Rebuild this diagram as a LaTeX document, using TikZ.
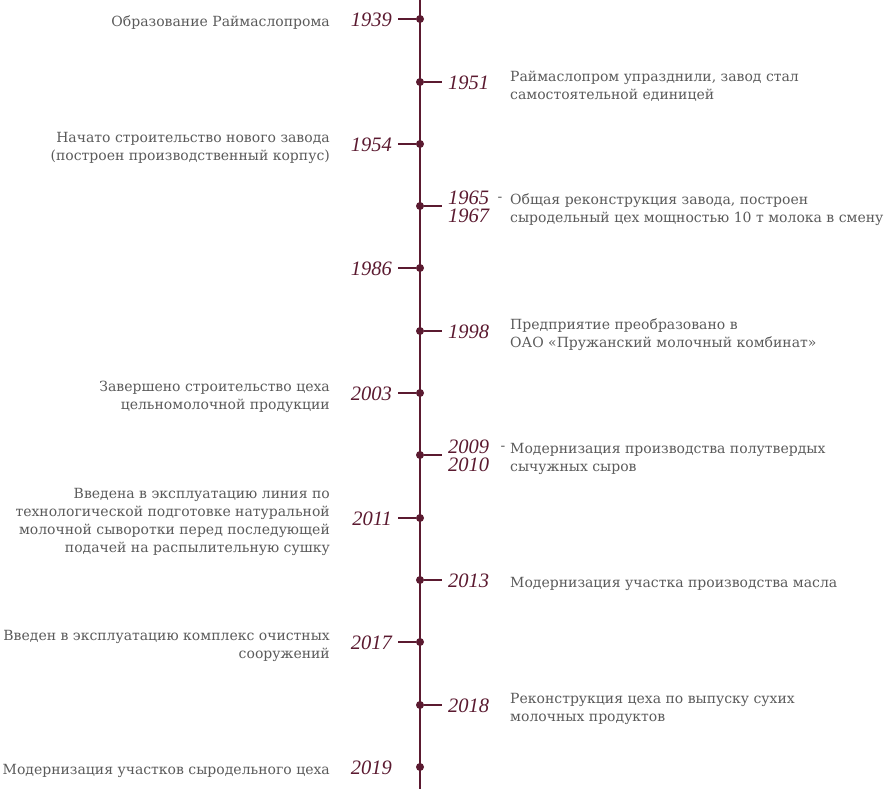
\documentclass[tikz,border=0pt]{standalone}
\usepackage{fontspec}
\setmainfont{DejaVu Serif}
\newfontfamily\yearfont{Liberation Serif}
\definecolor{maroon}{HTML}{5B1A30}
\definecolor{txt}{HTML}{5A5A5A}
\begin{document}
\begin{tikzpicture}[x=1pt,y=-1pt,
  yr/.style={font=\yearfont\itshape\fontsize{20.5}{18}\selectfont, text=maroon, inner sep=0pt},
  desc/.style={font=\fontsize{14}{18}\selectfont, text=txt, inner sep=0pt},
  dashm/.style={font=\fontsize{14}{18}\selectfont, text=txt, inner sep=0pt},
  tick/.style={draw=maroon, line width=2.2pt},
  dotm/.style={circle, fill=maroon, inner sep=0pt, minimum size=8pt}]
\useasboundingbox (0,0) rectangle (886,789);
\coordinate (top) at (420,0);
\coordinate (bot) at (420,789);
\draw[maroon, line width=2.2pt] (top) -- (bot);
% left items
\foreach \n/\y/\yy/\t in {
  a/19/1939/{Образование Раймаслопрома},
  b/144/1954/{Начато строительство нового завода\\(построен производственный корпус)},
  c/268/1986/{},
  d/393/2003/{Завершено строительство цеха\\цельномолочной продукции},
  e/518/2011/{Введена в эксплуатацию линия по\\технологической подготовке натуральной\\молочной сыворотки перед последующей\\подачей на распылительную сушку},
  f/642/2017/{Введен в эксплуатацию комплекс очистных\\сооружений}}{
  \node[dotm] (d\n) at (420,\y) {};
  \coordinate (k\n) at (398,\y);
  \draw[tick] (k\n) -- (d\n);
  \node[yr, anchor=east] (y\n) at (392,\y+1) {\yy};
  \node[desc, anchor=east, align=right] (t\n) at (330,\y+4) {\t};
}
% 2019 (no tick)
\node[dotm] (dg) at (420,767) {};
\node[yr, anchor=east] (yg) at (392,768) {2019};
\node[desc, anchor=east, align=right] (tg) at (330,771) {Модернизация участков сыродельного цеха};
% right items (single year)
\foreach \n/\y/\yy/\t in {
  h/82/1951/{Раймаслопром упразднили, завод стал\\самостоятельной единицей},
  j/331/1998/{Предприятие преобразовано в\\ОАО «Пружанский молочный комбинат»},
  l/580/2013/{Модернизация участка производства масла},
  m/705/2018/{Реконструкция цеха по выпуску сухих\\молочных продуктов}}{
  \node[dotm] (d\n) at (420,\y) {};
  \coordinate (k\n) at (442,\y);
  \draw[tick] (d\n) -- (k\n);
  \node[yr, anchor=west] (y\n) at (448,\y+1) {\yy};
  \node[desc, anchor=west, align=left] (t\n) at (510,\y+4) {\t};
}
% right items (year ranges)
\foreach \n/\y/\ya/\yb/\dx/\t in {
  i/206/1965/1967/500/{Общая реконструкция завода, построен\\сыродельный цех мощностью 10 т молока в смену},
  k/455/2009/2010/503/{Модернизация производства полутвердых\\сычужных сыров}}{
  \node[dotm] (d\n) at (420,\y) {};
  \coordinate (k\n) at (442,\y);
  \draw[tick] (d\n) -- (k\n);
  \node[yr, anchor=west] (ya\n) at (448,\y-8) {\ya};
  \node[yr, anchor=west] (yb\n) at (448,\y+10) {\yb};
  \node[dashm] (m\n) at (\dx,\y-7) {-};
  \node[desc, anchor=west, align=left] (t\n) at (510,\y+4) {\t};
}
\end{tikzpicture}
\end{document}
